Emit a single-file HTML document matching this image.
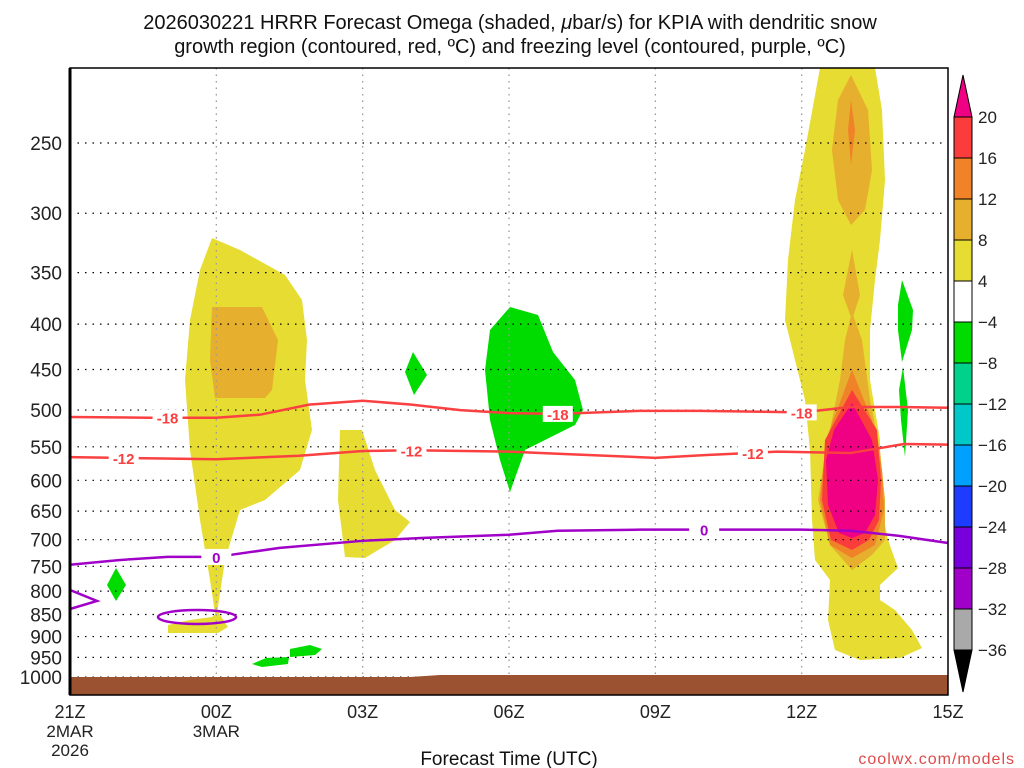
<!DOCTYPE html>
<html><head><meta charset="utf-8"><style>
html,body{margin:0;padding:0;background:#fff;}
svg{display:block;font-family:"Liberation Sans",sans-serif;}
</style></head><body>
<svg id="chart" width="1024" height="768" viewBox="0 0 1024 768" xmlns="http://www.w3.org/2000/svg">
<text x="510" y="29" font-size="20" text-anchor="middle" fill="#111">2026030221 HRRR Forecast Omega (shaded, <tspan font-style="italic">μ</tspan>bar/s) for KPIA with dendritic snow</text>
<text x="510" y="53" font-size="20" text-anchor="middle" fill="#111">growth region (contoured, red, ºC) and freezing level (contoured, purple, ºC)</text>
<g id="shading">
<polygon fill="#e6dc32" points="212,238 240,250 285,275 302,300 307,340 305,380 312,430 300,470 265,500 240,510 225,560 216,620 210,580 200,520 190,450 185,380 190,320 200,270"/>
<polygon fill="#e6af2d" points="212,307 262,307 278,340 272,390 265,398 215,398 210,360"/>
<polygon fill="#e6dc32" points="340,430 362,430 375,470 395,510 410,522 395,540 365,558 345,557 338,500"/>
<polygon fill="#00dc00" points="413,352 427,375 414,395 405,372"/>
<polygon fill="#00dc00" points="510,307 538,315 553,352 575,380 583,410 575,425 545,440 525,450 510,492 500,460 490,420 485,370 490,330"/>
<polygon fill="#e6dc32" points="820,68 805,150 795,200 788,260 785,320 795,360 805,400 810,450 812,520 815,560 830,580 828,620 835,650 860,660 900,658 922,648 912,630 895,610 880,600 880,585 898,568 888,540 880,500 880,440 870,380 870,330 875,280 880,240 885,180 882,110 875,68"/>
<polygon fill="#e6af2d" points="851,75 868,110 872,170 865,210 851,225 838,200 832,150 838,100"/>
<polygon fill="#f08228" points="851,100 855,130 851,165 848,130"/>
<polygon fill="#e6af2d" points="852,250 860,295 852,320 843,295"/>
<polygon fill="#e6af2d" points="852,312 862,340 870,400 880,450 885,500 885,540 872,555 852,570 830,545 818,500 826,450 840,380 845,340"/>
<polygon fill="#f08228" points="852,370 872,420 882,470 884,510 875,545 852,558 830,545 820,500 826,440"/>
<polygon fill="#fa3c3c" points="852,390 877,430 881,480 879,520 869,540 852,550 831,540 822,500 825,440"/>
<polygon fill="#f00082" points="852,403 872,440 878,480 875,515 865,533 852,538 839,533 828,505 826,460 834,430"/>
<polygon fill="#00dc00" points="902,280 913,310 912,330 902,362 898,330 898,305"/>
<polygon fill="#00dc00" points="903,367 908,410 905,457 901,420 899,390"/>
<polygon fill="#00dc00" points="116,568 126,585 116,601 107,585"/>
<polygon fill="#e6dc32" points="168,625 190,620 212,617 218,612 228,627 218,633 168,633"/>
<polygon fill="#00dc00" points="252,664 266,658 289,657 288,664 262,667"/>
<polygon fill="#00dc00" points="290,649 310,645 322,649 315,655 290,657"/>
</g>
<g id="grid"></g>
<polygon fill="#9b5230" points="70,677 410,677 440,675 948,675 948,695 70,695"/>
<g id="lines"></g>
<ellipse cx="197" cy="617" rx="39" ry="7" fill="none" stroke="#a000c8" stroke-width="2.5"/>
<polyline points="70,590 97,601 70,609" fill="none" stroke="#a000c8" stroke-width="2.5"/>
<rect x="70" y="68" width="878" height="627" fill="none" stroke="#000" stroke-width="1.5"/>
<line x1="70" y1="68" x2="70" y2="695" stroke="#000" stroke-width="3"/>
<g id="axes"></g>
<text x="509" y="765" font-size="19" text-anchor="middle" fill="#111">Forecast Time (UTC)</text>
<text x="1015" y="764" font-size="16" text-anchor="end" fill="#e04a4a" letter-spacing="1">coolwx.com/models</text>
<g id="colorbar"></g>
</svg>
<script>
const NS='http://www.w3.org/2000/svg';
const pLevels=[250,300,350,400,450,500,550,600,650,700,750,800,850,900,950,1000];
const xHours=[0,3,6,9,12,15,18];
const xLabels=['21Z','00Z','03Z','06Z','09Z','12Z','15Z'];
const xSub=['2MAR','3MAR','','','','',''];
const m18Hours=[0,1.64,3,3.9,4.9,6,7,8,9,10,11.7,12.9,15,16,17,18];
const m18P=[509,510,510,506,493,488,493,500,504,505,501,501,503,496,496,497];
const m12Hours=[0,3,4.7,6,7,9,10,12,13,14.5,16,17.1,18];
const m12P=[565,568,563,556,555,557,560,566,562,557,559,546,547];
const frzHours=[0,1,2,3,4.3,6,7.2,9,10,11.7,12.9,15,16,17,18];
const frzP=[747,738,732,732,715,702,697,691,684,682,682,682,684,693,706];
const cbLevels=['20','16','12','8','4','−4','−8','−12','−16','−20','−24','−28','−32','−36'];
const cbColors=['#fa3c3c','#f08228','#e6af2d','#e6dc32','#ffffff','#00dc00','#00d28c','#00c8c8','#00a0ff','#1e3cff','#7800dc','#a000c8','#a9a9a9'];
const X=h=>70+h*48.78;
const Y=p=>143+Math.log(p/250)*385.3;
function el(t,a,parent){const e=document.createElementNS(NS,t);for(const k in a)e.setAttribute(k,a[k]);parent.appendChild(e);return e;}
const grid=document.getElementById('grid'),axes=document.getElementById('axes'),lines=document.getElementById('lines'),cb=document.getElementById('colorbar');
pLevels.forEach(p=>{
  const g=el('line',{x1:70,x2:948,y1:Y(p),y2:Y(p),stroke:'#000','stroke-width':1.2,'stroke-dasharray':'1.5 6'},grid);
  
  
  const t=el('text',{x:62,y:Y(p)+7,'font-size':19,'text-anchor':'end',fill:'#222'},axes);
  
  
  t.textContent=p;
});
xHours.forEach((h,i)=>{
  if(i>0&&i<xHours.length-1){
    const g=el('line',{x1:X(h),x2:X(h),y1:68,y2:695,stroke:'#999','stroke-width':1.3,'stroke-dasharray':'1.5 5'},grid);
    
    
  }
  const t=el('text',{x:X(h),y:718,'font-size':18,'text-anchor':'middle',fill:'#222'},axes);
  
  
  t.textContent=xLabels[i];
  if(xSub[i]){
    const s=el('text',{x:X(h),y:737,'font-size':17,'text-anchor':'middle',fill:'#222'},axes);
    
    
    s.textContent=xSub[i];
  }
});
const yr=el('text',{x:X(0),y:756,'font-size':17,'text-anchor':'middle',fill:'#222'},axes);


yr.textContent='2026';
function contour(hs,ps,color,name,labels,txt){
  const pts=hs.map((h,i)=>X(h)+','+Y(ps[i])).join(' ');
  const l=el('polyline',{points:pts,fill:'none',stroke:color,'stroke-width':2.5},lines);
  
  
  labels.forEach(h=>{
    let k=0;while(k<hs.length-2&&hs[k+1]<h)k++;
    const f=(h-hs[k])/(hs[k+1]-hs[k]);const p=ps[k]+(ps[k+1]-ps[k])*f;
    const r=el('rect',{x:X(h)-15,y:Y(p)-8,width:30,height:16,fill:'#fff'},lines);
    
    
    const t=el('text',{x:X(h),y:Y(p)+6,'font-size':15,'font-weight':'bold','text-anchor':'middle',fill:color},lines);
    
    
    t.textContent=txt;
  });
}
contour(m18Hours,m18P,'#fa4040','contour-minus18',[2,10,15],'-18');
contour(m12Hours,m12P,'#fa4040','contour-minus12',[1.1,7,14],'-12');
contour(frzHours,frzP,'#a000c8','freezing-level-line',[3,13],'0');
const cbx=954,cbw=18,cbTop=117,cbStep=41;
const up=el('polygon',{points:`${cbx},${cbTop} ${cbx+cbw},${cbTop} ${cbx+cbw/2},75`,fill:'#f00082',stroke:'#000','stroke-width':1},cb);


cbColors.forEach((c,i)=>{
  const r=el('rect',{x:cbx,y:cbTop+i*cbStep,width:cbw,height:cbStep,fill:c,stroke:'#000','stroke-width':1},cb);
  
  
});
const bot=cbTop+cbColors.length*cbStep;
const dn=el('polygon',{points:`${cbx},${bot} ${cbx+cbw},${bot} ${cbx+cbw/2},692`,fill:'#000',stroke:'#000','stroke-width':1},cb);


cbLevels.forEach((s,i)=>{
  const t=el('text',{x:978,y:cbTop+i*cbStep+6,'font-size':17,fill:'#222'},cb);
  
  
  t.textContent=s;
});
</script>
</body></html>
